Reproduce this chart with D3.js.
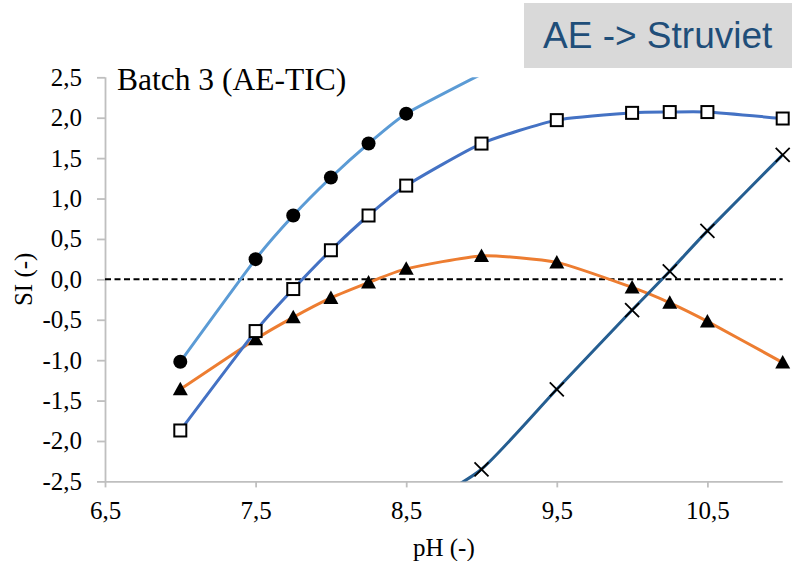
<!DOCTYPE html>
<html>
<head>
<meta charset="utf-8">
<script src="https://cdn.jsdelivr.net/npm/d3@7"></script>
<style>
  html, body { margin: 0; padding: 0; background: #ffffff; }
  svg { display: block; }
</style>
</head>
<body>
<svg id="chart" width="792" height="561"></svg>
<script>
// pH sample points and saturation indices per mineral curve
const phCircle   = [7, 7.5, 7.75, 8, 8.25, 8.5, 9];
const siCircle   = [-1.02, 0.25, 0.79, 1.26, 1.68, 2.05, 2.54];

const phSquare   = [7, 7.5, 7.75, 8, 8.25, 8.5, 9, 9.5, 10, 10.25, 10.5, 11];
const siSquare   = [-1.87, -0.64, -0.12, 0.36, 0.79, 1.16, 1.68, 1.97, 2.06, 2.07, 2.07, 1.99];

const phTriangle = [7, 7.5, 7.75, 8, 8.25, 8.5, 9, 9.5, 10, 10.25, 10.5, 11];
const siTriangle = [-1.36, -0.74, -0.47, -0.23, -0.04, 0.13, 0.29, 0.21, -0.10, -0.29, -0.52, -1.03];

const phCross    = [8.5, 9, 9.5, 10, 10.25, 10.5, 11];
const siCross    = [-2.9, -2.35, -1.36, -0.38, 0.10, 0.60, 1.54];

// axis ticks and labels
const xTicks = [6.5, 7.5, 8.5, 9.5, 10.5];
const yTicks = [-2.5, -2.0, -1.5, -1.0, -0.5, 0.0, 0.5, 1.0, 1.5, 2.0, 2.5];
const xTitle = "pH (-)";
const yTitle = "SI (-)";
const chartTitle = "Batch 3 (AE-TIC)";
const tagText = "AE -> Struviet";

const svg = d3.select("#chart");
const plot = { left: 105, right: 782.7, top: 77.3, bottom: 481.4 };

const x = d3.scaleLinear().domain([6.5, 11]).range([plot.left, plot.right]);
const y = d3.scaleLinear().domain([-2.5, 2.5]).range([plot.bottom, plot.top]);

const fmt = v => v.toFixed(1).replace(".", ",");
const serif = "'Liberation Serif', 'Times New Roman', serif";
const axisColor = "#bfbfbf";

// tag box in the top-right corner
svg.append("rect")
  .attr("x", 524).attr("y", 3).attr("width", 268).attr("height", 65)
  .attr("fill", "#d9d9d9");
svg.append("text")
  .attr("x", 543).attr("y", 48)
  .attr("font-family", "'Liberation Sans', Arial, sans-serif")
  .attr("font-size", 37)
  .attr("fill", "#1f4e79")
  .text(tagText);

// axes
const yAxis = svg.append("g")
  .attr("transform", `translate(${plot.left},0)`)
  .call(d3.axisLeft(y).tickValues(yTicks).tickFormat(fmt).tickSize(8).tickPadding(15));
const xAxis = svg.append("g")
  .attr("transform", `translate(0,${plot.bottom})`)
  .call(d3.axisBottom(x).tickValues(xTicks).tickFormat(fmt).tickSize(6).tickPadding(14));

[yAxis, xAxis].forEach(g => {
  g.select(".domain").attr("stroke", axisColor).attr("stroke-width", 1.8);
  g.selectAll(".tick line").attr("stroke", axisColor).attr("stroke-width", 1.8);
  g.selectAll(".tick text")
    .attr("fill", "#000")
    .attr("font-family", serif)
    .attr("font-size", 25);
});
// straight axis lines without the end caps that d3 adds
yAxis.select(".domain").attr("d", `M0.5,${plot.top}V${plot.bottom}`);
xAxis.select(".domain").attr("d", `M${plot.left},0.5H${plot.right}`);

// axis titles
svg.append("text")
  .attr("x", (plot.left + plot.right) / 2).attr("y", 556)
  .attr("text-anchor", "middle")
  .attr("font-family", serif).attr("font-size", 25)
  .text(xTitle);
svg.append("text")
  .attr("transform", `translate(32,${(plot.top + plot.bottom) / 2}) rotate(-90)`)
  .attr("text-anchor", "middle")
  .attr("font-family", serif).attr("font-size", 25)
  .text(yTitle);

// chart title inside the plot
svg.append("text")
  .attr("x", 117).attr("y", 90)
  .attr("font-family", serif).attr("font-size", 31.5)
  .text(chartTitle);

// clip region for curves that leave the plot
svg.append("defs").append("clipPath").attr("id", "plotClip")
  .append("rect")
  .attr("x", plot.left).attr("y", plot.top)
  .attr("width", plot.right - plot.left).attr("height", plot.bottom - plot.top);

const plotG = svg.append("g");

// SI = 0 reference line
plotG.append("line")
  .attr("x1", x(6.5)).attr("x2", x(11))
  .attr("y1", y(0)).attr("y2", y(0))
  .attr("stroke", "#000").attr("stroke-width", 2)
  .attr("stroke-dasharray", "6,3.5");

// gently smoothed connecting line
const line = d3.line()
  .x(d => x(d[0]))
  .y(d => y(d[1]))
  .curve(d3.curveCardinal.tension(0.4));

const inside = d => d[0] >= 6.5 && d[0] <= 11 && d[1] >= -2.5 && d[1] <= 2.5;

function drawSeries(ph, si, color, marker) {
  const pts = ph.map((p, i) => [p, si[i]]);
  const g = plotG.append("g");
  g.append("path")
    .attr("d", line(pts))
    .attr("clip-path", "url(#plotClip)")
    .attr("fill", "none")
    .attr("stroke", color)
    .attr("stroke-width", 3)
    .attr("stroke-linejoin", "round");
  const m = g.selectAll("g.marker").data(pts.filter(inside)).enter()
    .append("g").attr("class", "marker")
    .attr("transform", d => `translate(${x(d[0])},${y(d[1])})`);
  if (marker === "circle") {
    m.append("circle").attr("r", 7).attr("fill", "#000");
  } else if (marker === "square") {
    m.append("rect").attr("x", -6).attr("y", -6).attr("width", 12).attr("height", 12)
      .attr("fill", "#fff").attr("stroke", "#000").attr("stroke-width", 2);
  } else if (marker === "triangle") {
    m.append("path").attr("d", "M0,-7.5L7.5,6L-7.5,6Z").attr("fill", "#000");
  } else if (marker === "cross") {
    m.append("path").attr("d", "M-7,-7L7,7M-7,7L7,-7")
      .attr("stroke", "#000").attr("stroke-width", 1.8).attr("fill", "none");
  }
}

drawSeries(phTriangle, siTriangle, "#ed7d31", "triangle");
drawSeries(phCircle, siCircle, "#5b9bd5", "circle");
drawSeries(phSquare, siSquare, "#4472c4", "square");
drawSeries(phCross, siCross, "#255e91", "cross");
</script>
</body>
</html>
